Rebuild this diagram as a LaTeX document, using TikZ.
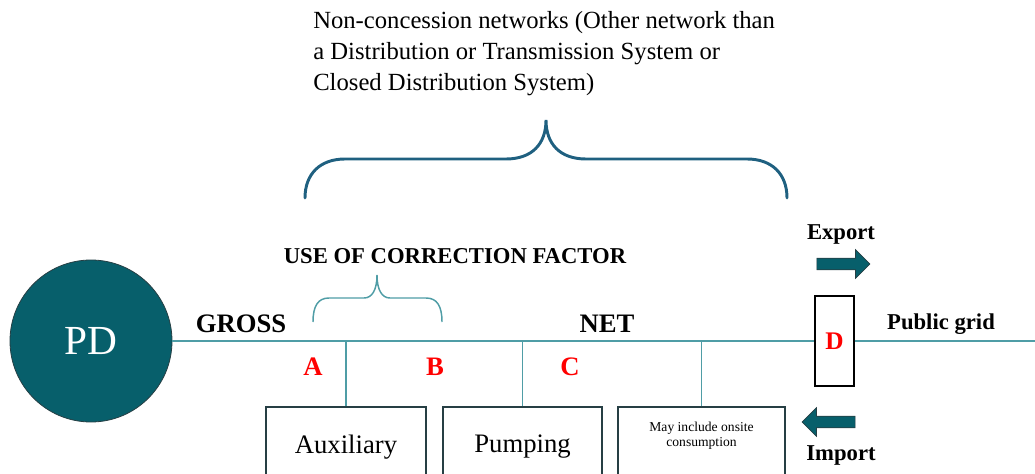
\documentclass[tikz,border=0pt]{standalone}
\usepackage{fontspec}
\setmainfont{Liberation Serif}
\usetikzlibrary{shapes.arrows}
\definecolor{pdteal}{HTML}{075F6B}
\definecolor{wireteal}{HTML}{4F9DA6}
\definecolor{braceblue}{HTML}{1F6080}
\definecolor{boxink}{HTML}{263F44}
\definecolor{labred}{HTML}{FF0000}

\begin{document}
\begin{tikzpicture}[
  x=0.75pt, y=-0.75pt,
  wire/.style     = {draw=wireteal, line width=1.1pt},
  loadbox/.style  = {rectangle, draw=boxink, line width=1.5pt, fill=white,
                     minimum height=60pt, anchor=north, inner sep=0pt,
                     font=\fontsize{20}{24}\selectfont},
  tag/.style      = {font=\bfseries\fontsize{20}{24}\selectfont, anchor=base,
                     inner sep=0pt},
  smalltag/.style = {tag, font=\bfseries\fontsize{17}{20}\selectfont},
  pointlab/.style = {tag, text=labred},
  flowarrow/.style= {single arrow, fill=pdteal, draw=boxink, line width=0.5pt,
                     inner xsep=0pt, inner ysep=4.1pt, minimum width=21pt,
                     single arrow head extend=6.4pt,
                     single arrow head indent=0pt, minimum height=39.75pt},
]
\useasboundingbox (0,0) rectangle (1035,474);
\clip (0,0) rectangle (1035,474);
% source and metering point
\node[circle, fill=pdteal, draw=boxink, line width=0.6pt, minimum size=121.5pt,
      text=white, font=\fontsize{31}{36}\selectfont] (pd) at (91,341) {PD};
\node[rectangle, draw=black, line width=1.1pt, fill=white, minimum width=29.25pt,
      minimum height=67.5pt, text=labred, font=\bfseries\fontsize{19}{22}\selectfont]
      (dbox) at (834.5,341) {D};
\coordinate (gridend) at (1040,341);
\draw[wire] (pd.east) -- (dbox.west);
\draw[wire] (dbox.east) -- (gridend);
% loads
\node[loadbox, minimum width=120pt]   (aux)  at (346,406)   {Auxiliary};
\node[loadbox, minimum width=119.25pt] (pump) at (522.5,406) {Pumping};
\node[loadbox, minimum width=125.25pt] (cons) at (701.5,406) {};
\node[anchor=north, align=center, inner sep=0pt,
      font=\fontsize{10.2}{11.25}\selectfont] (consnote) at (701.5,422)
      {May include onsite\\consumption};
\draw[wire] (aux.north)  -- (aux.north |- pd.east);
\draw[wire] (pump.north) -- (pump.north |- pd.east);
\draw[wire] (cons.north) -- (cons.north |- pd.east);
% labels on the line
\node[tag] (gross) at (241,332) {GROSS};
\node[tag] (net)   at (607,332) {NET};
\node[smalltag] (cf) at (455,263) {USE OF CORRECTION FACTOR};
\node[pointlab] (pa) at (313,375) {A};
\node[pointlab] (pb) at (435,375) {B};
\node[pointlab] (pc) at (570,375) {C};
\node[smalltag] (grid) at (941,329) {Public grid};
% export / import
\node[smalltag] (exp) at (841,239) {Export};
\node[smalltag] (imp) at (841,460) {Import};
\node[flowarrow] (exparrow) at (840.5,264) {};
\node[flowarrow, shape border rotate=180] (imparrow) at (831.5,422) {};
% braces
\draw[wireteal, line width=1.1pt]
  (313,322) .. controls (313,306) and (318,298) .. (329,298) -- (364,298)
  .. controls (372,298) and (377,290) .. (377,275)
  .. controls (377,290) and (382,298) .. (390,298) -- (426,298)
  .. controls (437,298) and (442,306) .. (442,322);
\draw[braceblue, line width=2.2pt, line cap=round]
  (305,198) .. controls (305,174) and (320,159) .. (345,159) -- (506,159)
  .. controls (532,159) and (546,144) .. (546,120)
  .. controls (546,144) and (560,159) .. (586,159) -- (747,159)
  .. controls (772,159) and (787,174) .. (787,198);
\node[anchor=north west, align=left, inner sep=0pt,
      font=\fontsize{18.5}{23.25}\selectfont] (title) at (313,11)
  {Non-concession networks (Other network than\\
   a Distribution or Transmission System or\\
   Closed Distribution System)};
\end{tikzpicture}
\end{document}
